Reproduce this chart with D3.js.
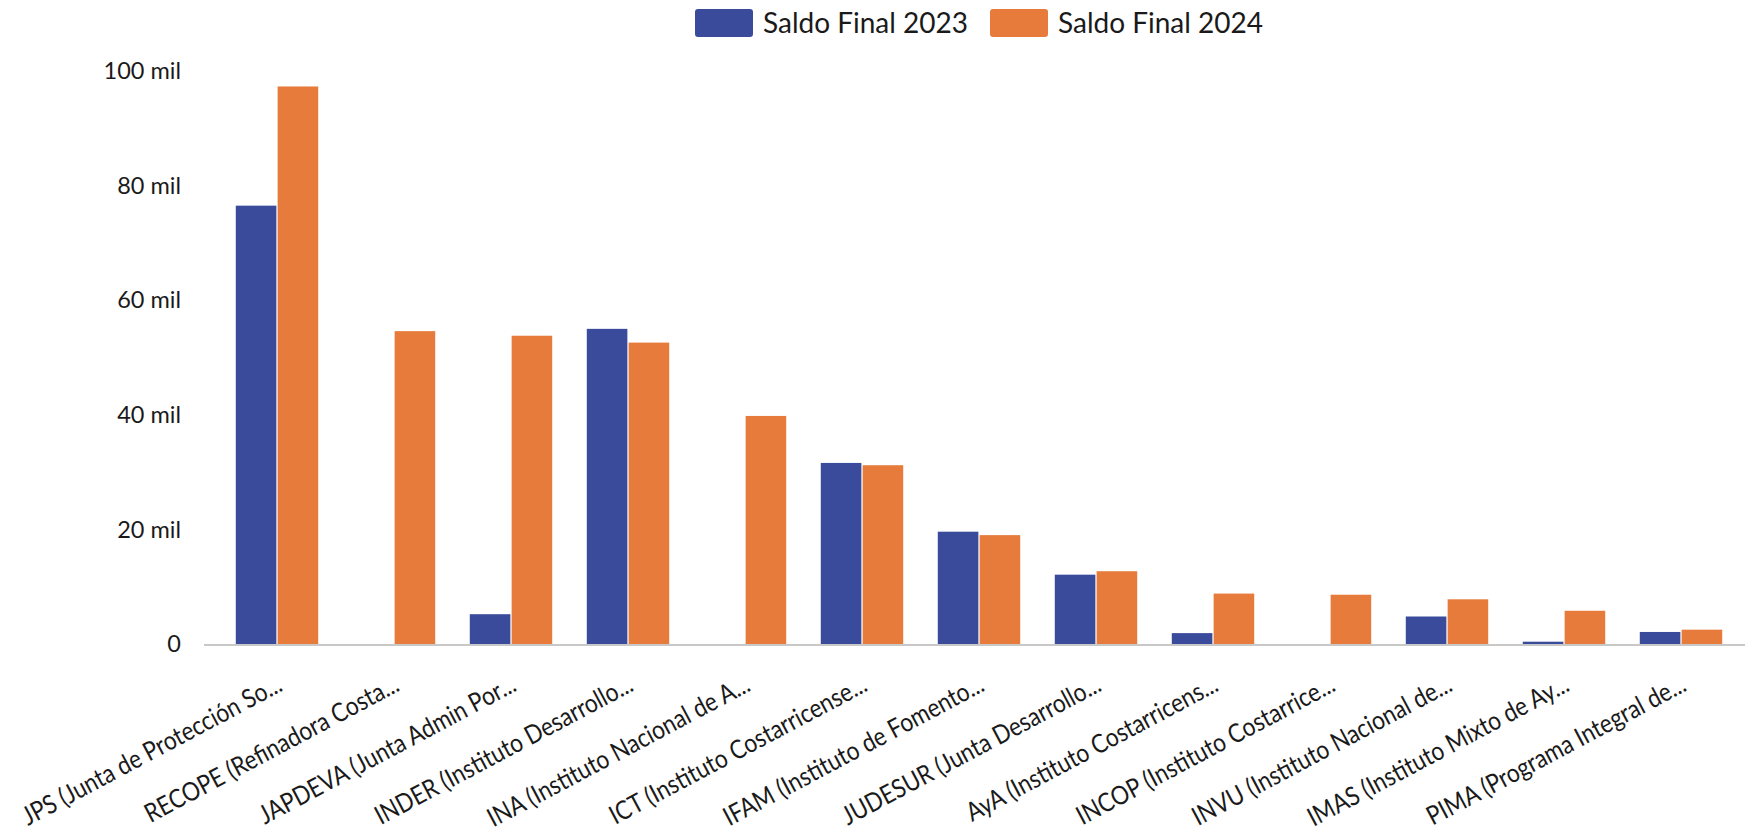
<!DOCTYPE html>
<html>
<head>
<meta charset="utf-8">
<script src="https://cdn.jsdelivr.net/npm/d3@7"></script>
<style>
  body { margin: 0; background: #fff; }
  svg { font-family: Lato, "Open Sans", sans-serif; }
  .tick-label { font-size: 23.5px; fill: #1a1a1a; }
  .x-label { font-size: 26px; fill: #1a1a1a; }
  .legend-text { font-size: 28px; fill: #1a1a1a; }
</style>
</head>
<body>
<div id="chart"></div>
<script>
// Data (thousands)
const categories = [
  "JPS (Junta de Protección So...",
  "RECOPE (Refinadora Costa...",
  "JAPDEVA (Junta Admin Por...",
  "INDER (Instituto Desarrollo...",
  "INA (Instituto Nacional de A...",
  "ICT (Instituto Costarricense...",
  "IFAM (Instituto de Fomento...",
  "JUDESUR (Junta Desarrollo...",
  "AyA (Instituto Costarricens...",
  "INCOP (Instituto Costarrice...",
  "INVU (Instituto Nacional de...",
  "IMAS (Instituto Mixto de Ay...",
  "PIMA (Programa Integral de..."
];
const saldo2023 = [76.5, 0, 5.2, 55.0, 0, 31.6, 19.6, 12.1, 1.9, 0, 4.8, 0.4, 2.1];
const saldo2024 = [97.3, 54.6, 53.8, 52.6, 39.8, 31.2, 19.0, 12.7, 8.8, 8.6, 7.8, 5.8, 2.5];
const seriesNames = ["Saldo Final 2023", "Saldo Final 2024"];
const seriesColors = ["#3a4b9b", "#e67b3c"];
const yTicks = [0, 20, 40, 60, 80, 100];

const width = 1745, height = 835;
const margin = {top: 71, bottom: 644};

const rows = categories.map((c, i) => ({cat: c, values: [saldo2023[i], saldo2024[i]]}));

const svg = d3.select('#chart').append('svg')
    .attr('width', width)
    .attr('height', height);

// Scales
const x0 = d3.scaleBand()
    .domain(categories)
    .range([218.5, 1739.5])
    .paddingInner(0.274)
    .paddingOuter(0.137);

const x1 = d3.scaleBand()
    .domain([0, 1])
    .range([0, x0.bandwidth()])
    .padding(0.03);

const y = d3.scaleLinear()
    .domain([0, 100])
    .range([margin.bottom, margin.top]);

// Y tick labels
svg.append('g').selectAll('text')
  .data(yTicks)
  .join('text')
    .attr('class', 'tick-label')
    .attr('x', 181)
    .attr('y', d => y(d))
    .attr('dy', '0.35em')
    .attr('text-anchor', 'end')
    .text(d => d === 0 ? '0' : d + ' mil');

// Bars
const groups = svg.append('g').selectAll('g')
  .data(rows)
  .join('g')
    .attr('transform', d => `translate(${x0(d.cat)},0)`);

groups.selectAll('rect')
  .data(d => d.values.map((v, k) => ({k, v})))
  .join('rect')
    .attr('x', d => x1(d.k))
    .attr('width', x1.bandwidth())
    .attr('y', d => y(d.v))
    .attr('height', d => y(0) - y(d.v))
    .attr('fill', d => seriesColors[d.k]);

// Baseline
svg.append('line')
    .attr('x1', 204).attr('x2', width)
    .attr('y1', y(0) + 1).attr('y2', y(0) + 1)
    .attr('stroke', '#c8c8c8')
    .attr('stroke-width', 2);

// X labels (narrow, rotated)
svg.append('g').selectAll('text')
  .data(categories)
  .join('text')
    .attr('class', 'x-label')
    .attr('text-anchor', 'end')
    .attr('transform', d => `translate(${x0(d) + x0.bandwidth() / 2 + 7},${y(0) + 46}) rotate(-28) scale(0.87,1)`)
    .text(d => d);

// Legend
const legendX = [695, 990];
const legend = svg.append('g').selectAll('g')
  .data(seriesNames)
  .join('g')
    .attr('transform', (d, i) => `translate(${legendX[i]},9)`);

legend.append('rect')
    .attr('width', 58)
    .attr('height', 28)
    .attr('rx', 3)
    .attr('fill', (d, i) => seriesColors[i]);

legend.append('text')
    .attr('class', 'legend-text')
    .attr('x', 68)
    .attr('y', 14)
    .attr('dy', '0.35em')
    .text(d => d);
</script>
</body>
</html>
